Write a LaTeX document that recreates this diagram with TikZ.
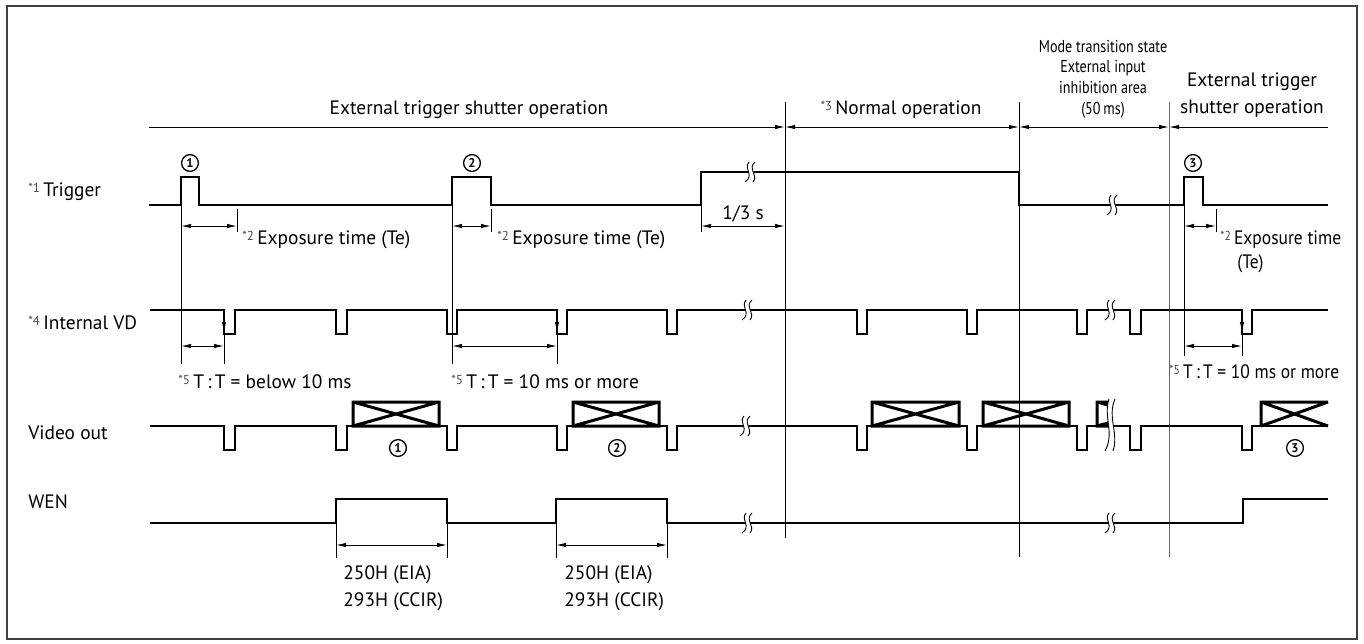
\documentclass[tikz,border=0pt]{standalone}
\usepackage{fontspec}
\setmainfont{PT Sans}
\newfontfamily\narrowfont[FakeStretch=0.82]{PT Sans}
\newfontfamily\condfont[FakeStretch=0.9]{PT Sans}
\usetikzlibrary{arrows.meta}

% footnote mark in front of a label
\newcommand{\fn}[1]{\textcolor{black!70}{\raisebox{0.4ex}{\fontsize{6.5}{6.5}\selectfont *#1}}\,}
% crossed box on the video line
\newcommand{\crossbox}[2]{\draw[xline] (#1,402) rectangle (#2,426) (#1,402) -- (#2,426) (#1,426) -- (#2,402);}
% positions of the VD pulses
\newcommand{\vdpulses}{224/235,336/347,447/457,557/567,667/677,857/867,967/977,1077/1087,1130/1141,1242/1252}

\tikzset{
	dtip/.tip={Latex[length=5pt,width=2.2pt]},
	sig/.style={line width=1.15pt},
	thinline/.style={line width=0.45pt},
	dimline/.style={thinline,dtip-dtip},
	xline/.style={line width=1.5pt},
	frame/.style={line width=0.8pt,black!75},
	lbl/.style={font=\fontsize{9.7}{11}\selectfont,inner sep=0pt},
	clbl/.style={font=\condfont\fontsize{9.7}{11}\selectfont,inner sep=0pt},
	small/.style={font=\narrowfont\fontsize{8.6}{10}\selectfont,inner sep=0pt},
	circnum/.style={circle,draw,line width=0.65pt,inner sep=0pt,minimum size=8.4pt,font=\bfseries\fontsize{6.3}{6.3}\selectfont},
	brk/.pic={
		\fill[white] (-1,-10) .. controls (-7,-3) and (5,3) .. (-5,10) -- (3,10) .. controls (9,3) and (-3,-3) .. (5,-10) -- cycle;
		\draw[thinline] (-1,-10) .. controls (-7,-3) and (5,3) .. (-5,10) (5,-10) .. controls (-3,-3) and (9,3) .. (3,10);
	}
}

\begin{document}
\begin{tikzpicture}[x=0.5pt,y=-0.5pt]
	\useasboundingbox (0,0) rectangle (1364,643);
	\draw[frame] (7,6) rectangle (1357,639);

	% operation areas
	\draw[thinline] (785,102) -- (785,538);
	\draw[thinline] (1019,102) -- (1019,557);
	\draw[thinline,black!60] (1169,102) -- (1169,557);
	\draw[thinline,-dtip] (149,127) -- (785,127);
	\draw[dimline] (785,127) -- (1019,127);
	\draw[dimline] (1019,127) -- (1169,127);
	\draw[thinline,dtip-] (1169,127) -- (1328,127);
	\node[lbl,anchor=base] (ext1) at (469,114) {External trigger shutter operation};
	\node[lbl,anchor=base] (norm) at (901,114) {\fn{3}Normal operation};
	\node[small,anchor=base] (mode1) at (1103,52) {Mode transition state};
	\node[small,anchor=base] (mode2) at (1103,72) {External input};
	\node[small,anchor=base] (mode3) at (1103,93) {inhibition area};
	\node[small,anchor=base] (mode4) at (1103,114) {(50\,ms)};
	\node[lbl,anchor=base] (ext2a) at (1252,86) {External trigger};
	\node[lbl,anchor=base] (ext2b) at (1252,113) {shutter operation};

	% signal names
	\node[lbl,anchor=base west] (trg) at (28,196) {\fn{1}Trigger};
	\node[lbl,anchor=base west] (vd) at (28,329) {\fn{4}Internal VD};
	\node[lbl,anchor=base west] (vout) at (28,439) {Video out};
	\node[lbl,anchor=base west] (wen) at (28,508) {WEN};

	% trigger
	\draw[sig] (149,205) -| (181,177) -| (199,205) -| (452,177) -| (491,205) -| (701,172) -| (1019,205) -| (1184,177) -| (1203,205) -- (1328,205);
	\node[circnum] (t1) at (190,163) {1};
	\node[circnum] (t2) at (472,163) {2};
	\node[circnum] (t3) at (1193,163) {3};
	\draw[thinline] (181,205) -- (181,364);
	\draw[thinline] (452,205) -- (452,364);
	\draw[thinline] (1184,205) -- (1184,356);
	\draw[thinline] (237,209) -- (237,232);
	\draw[thinline] (491,209) -- (491,232);
	\draw[thinline] (1216,209) -- (1216,232);
	\draw[thinline] (701,205) -- (701,232);
	\draw[dimline] (181,226) -- (237,226);
	\draw[dimline] (452,226) -- (491,226);
	\draw[dimline] (701,226) -- (785,226);
	\draw[dimline] (1184,226) -- (1216,226);
	\node[lbl,anchor=base west] (te1) at (242,244) {\fn{2}Exposure time (Te)};
	\node[lbl,anchor=base west] (te2) at (497,244) {\fn{2}Exposure time (Te)};
	\node[clbl,anchor=base west] (te3) at (1220,244) {\fn{2}Exposure time};
	\node[clbl,anchor=base west] (te3b) at (1237,268) {(Te)};
	\node[lbl,anchor=base] (third) at (743,219) {1/3 s};

	% internal VD
	\draw[sig] (150,310) foreach \a/\b in \vdpulses { -- (\a,310) -- (\a,334) -- (\b,334) -- (\b,310) } -- (1328,310);
	\foreach \x in {224,557} \draw[thinline] (\x,310) -- (\x,364);
	\draw[thinline] (1242,310) -- (1242,356);
	\foreach \x in {224,557,1242} \draw[thinline,-dtip] (\x,310) -- (\x,332);
	\draw[dimline] (181,346) -- (224,346);
	\draw[dimline] (452,346) -- (557,346);
	\draw[dimline] (1184,346) -- (1242,346);
	\node[lbl,anchor=base west] (tt1) at (178,388) {\fn{5}T\,:\,T = below 10 ms};
	\node[lbl,anchor=base west] (tt2) at (451,388) {\fn{5}T\,:\,T = 10 ms or more};
	\node[clbl,anchor=base west] (tt3) at (1169,378) {\fn{5}T\,:\,T = 10 ms or more};

	% video out
	\draw[sig] (150,426) foreach \a/\b in \vdpulses { -- (\a,426) -- (\a,450) -- (\b,450) -- (\b,426) } -- (1328,426);
	\crossbox{353}{439}
	\crossbox{573}{659}
	\crossbox{872}{959}
	\crossbox{983}{1069}
	\begin{scope}
		\clip (1090,395) rectangle (1111,432);
		\crossbox{1097}{1184}
	\end{scope}
	\draw[xline] (1328,402) -- (1261,402) -- (1261,426) (1261,402) -- (1328,426) (1261,426) -- (1328,402);
	\node[circnum] (v1) at (398,448) {1};
	\node[circnum] (v2) at (617,448) {2};
	\node[circnum] (v3) at (1295,448) {3};

	% WEN
	\draw[sig] (150,523) -| (336,499) -| (447,523) -| (556,499) -| (667,523) -| (1243,499) -- (1328,499);
	\foreach \x in {336,447,556,667} \draw[thinline] (\x,523) -- (\x,558);
	\draw[dimline] (336,545) -- (447,545);
	\draw[dimline] (556,545) -- (667,545);
	\node[lbl,anchor=base west] (w1a) at (343,579) {250H (EIA)};
	\node[lbl,anchor=base west] (w1b) at (343,606) {293H (CCIR)};
	\node[lbl,anchor=base west] (w2a) at (564,579) {250H (EIA)};
	\node[lbl,anchor=base west] (w2b) at (564,606) {293H (CCIR)};

	% breaks
	\foreach \x/\y in {750/172,1112/205,747/310,1110/310,745/426,747/523,1110/523} \pic at (\x,\y) {brk};
	\pic[yscale=2.6] at (1110,425) {brk};
\end{tikzpicture}
\end{document}
